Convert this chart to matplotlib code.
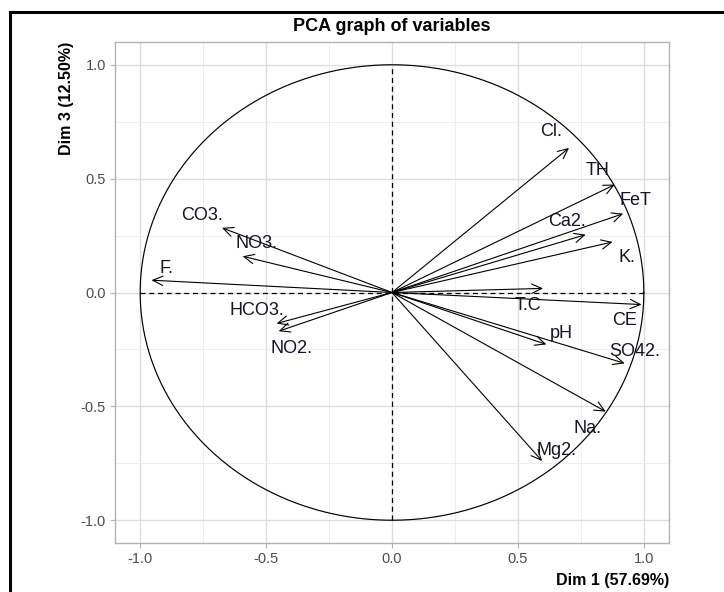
import numpy as np
import matplotlib
matplotlib.use("Agg")
import matplotlib.pyplot as plt
from matplotlib.lines import Line2D

plt.rcParams['font.family'] = ['Liberation Sans', 'DejaVu Sans']

# ---- data (coordinates of variables on Dim 1 / Dim 3) ----
variables = ["Cl.", "TH", "FeT", "Ca2.", "K.", "T.C", "CE", "pH", "SO42.",
             "Na.", "Mg2.", "CO3.", "NO3.", "F.", "HCO3.", "NO2."]
dim1 = [0.703, 0.885, 0.918, 0.769, 0.876, 0.600, 0.991, 0.613, 0.924,
        0.849, 0.596, -0.675, -0.593, -0.955, -0.458, -0.450]
dim3 = [0.635, 0.474, 0.346, 0.254, 0.222, 0.018, -0.053, -0.228, -0.311,
        -0.523, -0.740, 0.284, 0.159, 0.054, -0.136, -0.170]
# label anchor positions (as placed in the original graph)
label_x = [0.630, 0.815, 0.968, 0.694, 0.933, 0.539, 0.925, 0.674, 0.964,
           0.777, 0.653, -0.753, -0.539, -0.897, -0.535, -0.400]
label_y = [0.706, 0.536, 0.405, 0.311, 0.154, -0.056, -0.121, -0.180, -0.259,
           -0.596, -0.692, 0.339, 0.215, 0.105, -0.078, -0.246]

title = "PCA graph of variables"
xlabel = "Dim 1 (57.69%)"
ylabel = "Dim 3 (12.50%)"
ticks = [-1.0, -0.5, 0.0, 0.5, 1.0]
minor_ticks = [-0.75, -0.25, 0.25, 0.75]

fig = plt.figure(figsize=(7.24, 5.92), dpi=100)
fig.patch.set_facecolor("white")
ax = fig.add_axes([115/724, 1-543/592, (669-115)/724, (543-42)/592])

ax.set_xlim(-1.1, 1.1)
ax.set_ylim(-1.1, 1.1)

# grid
ax.set_xticks(ticks)
ax.set_yticks(ticks)
ax.set_xticks(minor_ticks, minor=True)
ax.set_yticks(minor_ticks, minor=True)
ax.grid(True, which="major", color="#DEDEDE", lw=1.0)
ax.grid(True, which="minor", color="#EBEBEB", lw=0.6)
ax.set_axisbelow(True)
ax.tick_params(which="minor", length=0)
ax.tick_params(which="major", length=3.5, width=0.8, color="#B3B3B3",
               labelcolor="#4D4D4D", labelsize=10.5, pad=3)
ax.set_xticklabels(["-1.0", "-0.5", "0.0", "0.5", "1.0"])
ax.set_yticklabels(["-1.0", "-0.5", "0.0", "0.5", "1.0"])
for s in ax.spines.values():
    s.set_color("#B3B3B3")
    s.set_linewidth(1.0)

# unit circle
theta = np.linspace(0, 2*np.pi, 400)
ax.plot(np.cos(theta), np.sin(theta), color="black", lw=0.85)
# dashed axes
ax.plot([-1, 1], [0, 0], color="black", lw=0.9, ls=(0, (4, 3)))
ax.plot([0, 0], [-1, 1], color="black", lw=0.9, ls=(0, (4, 3)))

# arrows
for xv, yv in zip(dim1, dim3):
    ax.annotate("", xy=(xv, yv), xytext=(0, 0),
                arrowprops=dict(arrowstyle="->,head_length=0.6,head_width=0.28",
                                lw=0.8, color="black", shrinkA=0, shrinkB=0,
                                mutation_scale=12))
# labels
for name, lx, ly in zip(variables, label_x, label_y):
    ax.text(lx, ly, name, ha="center", va="center", fontsize=13,
            color="#141428")

# titles
ax.set_title(title, fontsize=13, fontweight="bold", pad=8)
fig.text(669/724, 1-581/592, xlabel, ha="right", va="center",
         fontsize=11.5, fontweight="bold")
fig.text(66/724, 1-42/592, ylabel, ha="center", va="top", rotation=90,
         fontsize=11.5, fontweight="bold")

# black frame (left and top edges)
fig.add_artist(Line2D([9.5/724, 9.5/724], [0, 1-12/592], color="black",
                      lw=2.2, transform=fig.transFigure))
fig.add_artist(Line2D([9.5/724, 1], [1-12/592, 1-12/592], color="black",
                      lw=2.2, transform=fig.transFigure))

fig.savefig("out.png", dpi=100, facecolor="white")
